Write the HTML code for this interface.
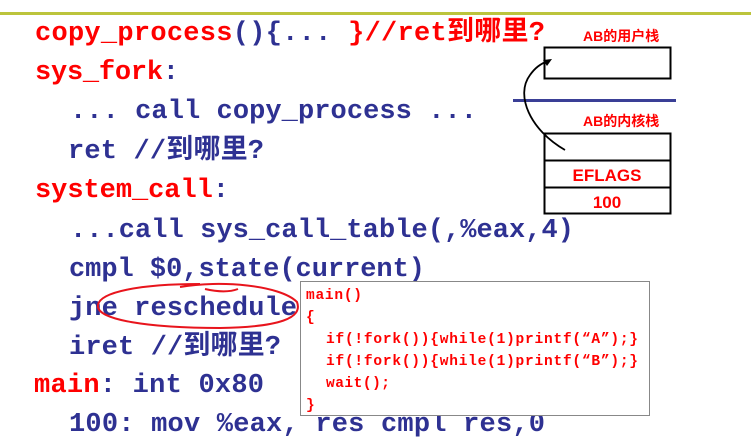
<!DOCTYPE html>
<html><head><meta charset="utf-8"><style>
html,body{margin:0;padding:0;background:#fff;}
svg{display:block}
.c{font-family:"Liberation Mono","Noto Sans CJK SC",monospace;font-weight:bold;font-size:27px;}
.r{fill:#f00}.b{fill:#2e3192}
.p{font-family:"Liberation Mono","Noto Sans CJK SC",monospace;font-weight:bold;font-size:14.5px;fill:#f00}
.s{font-family:"Liberation Sans","Noto Sans CJK SC",sans-serif;font-weight:bold;fill:#f00}
</style></head><body>
<svg width="751" height="443" viewBox="0 0 751 443">
<rect x="0" y="12" width="751" height="3" fill="#bcc43c"/>
<text class="c" y="40" x="35" textLength="510"><tspan class="r">copy_process</tspan><tspan class="b">(){... </tspan><tspan class="r">}//ret到哪里?</tspan></text>
<text class="c r" x="35" y="79" textLength="144">sys_fork<tspan class="b">:</tspan></text>
<text class="c b" x="70" y="118" textLength="407">... call copy_process ...</text>
<text class="c b" x="68" y="158" textLength="196">ret //到哪里?</text>
<text class="c r" x="35" y="197" textLength="194">system_call<tspan class="b">:</tspan></text>
<text class="c b" x="70" y="237" textLength="504">...call sys_call_table(,%eax,4)</text>
<text class="c b" x="69" y="276" textLength="356">cmpl $0,state(current)</text>
<text class="c b" x="69" y="315" textLength="228">jne reschedule</text>
<text class="c b" x="69" y="354" textLength="212">iret //到哪里?</text>
<text class="c r" x="34" y="392" textLength="230">main<tspan class="b">: int 0x80</tspan></text>
<text class="c b" x="69" y="431" textLength="476">100: mov %eax, res cmpl res,0</text>
<path d="M180,287 C220,280 280,285 297,302 C303,318 280,327 220,328 C150,328 95,320 98,305 C100,292 140,284 200,284" fill="none" stroke="#e8141c" stroke-width="2"/>
<path d="M205,289 C218,292 230,292 238,289" fill="none" stroke="#e8141c" stroke-width="2"/>
<rect x="300.5" y="281.5" width="349" height="134" fill="#fff" stroke="#888" stroke-width="1"/>
<text class="p" x="306" y="299" textLength="56">main()</text>
<text class="p" x="306" y="321">{</text>
<text class="p" x="326" y="343" textLength="312">if(!fork()){while(1)printf(“A”);}</text>
<text class="p" x="326" y="365" textLength="312">if(!fork()){while(1)printf(“B”);}</text>
<text class="p" x="326" y="387" textLength="64">wait();</text>
<text class="p" x="306" y="409">}</text>
<text class="s" x="583" y="41" font-size="14">AB的用户栈</text>
<rect x="544.5" y="47.5" width="126" height="31" fill="none" stroke="#000" stroke-width="2"/>
<rect x="513" y="99" width="163" height="3" fill="#3a3f96"/>
<text class="s" x="583" y="126" font-size="14">AB的内核栈</text>
<rect x="544.5" y="133.5" width="126" height="80" fill="none" stroke="#000" stroke-width="2"/>
<line x1="544" y1="160.5" x2="671" y2="160.5" stroke="#000" stroke-width="2"/>
<line x1="544" y1="187.5" x2="671" y2="187.5" stroke="#000" stroke-width="2"/>
<text class="s" x="607" y="181" font-size="17" text-anchor="middle">EFLAGS</text>
<text class="s" x="607" y="208" font-size="17" text-anchor="middle">100</text>
<path d="M565,150 C530,130 515,95 530,75 C535,68 540,64 548,61" fill="none" stroke="#000" stroke-width="1.8"/>
<path d="M552,59 L543,60 L547,66 Z" fill="#000"/>
</svg>
</body></html>
